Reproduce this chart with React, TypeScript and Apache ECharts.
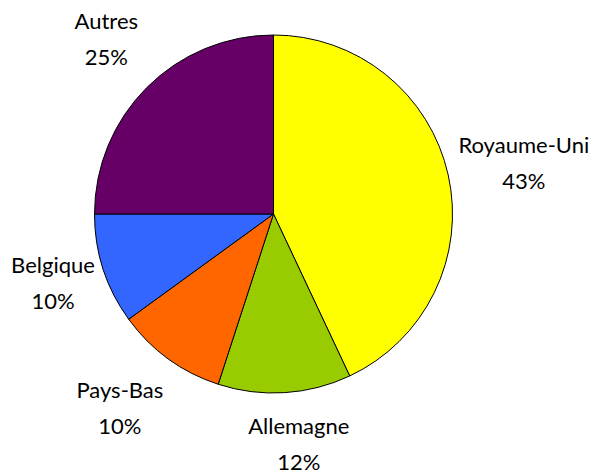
import React, { useEffect, useRef } from "react";
import * as echarts from "echarts";

const categories = ["Royaume-Uni", "Allemagne", "Pays-Bas", "Belgique", "Autres"];
const values = [43, 12, 10, 10, 25];
const colors = ["#FFFF00", "#99CC00", "#FF6600", "#3366FF", "#660066"];
// small per-label nudges [dx, dy] applied after the library's label layout
const labelNudges = [
  [21, 0],
  [10.5, -5.5],
  [-15.5, 3],
  [3, -4.5],
  [-1, -9.5],
];

export default function App() {
  const ref = useRef<HTMLDivElement>(null);
  useEffect(() => {
    document.body.style.margin = "0";
    const chart = echarts.init(ref.current!, null, { renderer: "svg" });
    const center = [273.5, 214];
    chart.setOption({
      animation: false,
      backgroundColor: "#ffffff",
      series: [
        {
          type: "pie",
          center,
          radius: 179,
          startAngle: 90,
          clockwise: true,
          silent: true,
          label: { show: false },
          labelLine: { show: false },
          itemStyle: { borderColor: "#000000", borderWidth: 1 },
          data: categories.map((c, i) => ({
            name: c,
            value: values[i],
            itemStyle: { color: colors[i] },
          })),
        },
        {
          type: "pie",
          center,
          radius: [150, 314],
          startAngle: 90,
          clockwise: true,
          silent: true,
          labelLine: { show: false },
          itemStyle: { color: "rgba(0,0,0,0)", borderWidth: 0 },
          label: {
            show: true,
            position: "inside",
            formatter: "{b}\n{c}%",
            color: "#000000",
            fontFamily: "Lato",
            fontSize: 22,
            lineHeight: 36,
          },
          labelLayout: (p: any) => ({
            dx: labelNudges[p.dataIndex][0],
            dy: labelNudges[p.dataIndex][1],
          }),
          data: categories.map((c, i) => ({
            name: c,
            value: values[i],
          })),
        },
      ],
    });
    return () => chart.dispose();
  }, []);
  return <div ref={ref} style={{ width: 593, height: 473 }} />;
}
